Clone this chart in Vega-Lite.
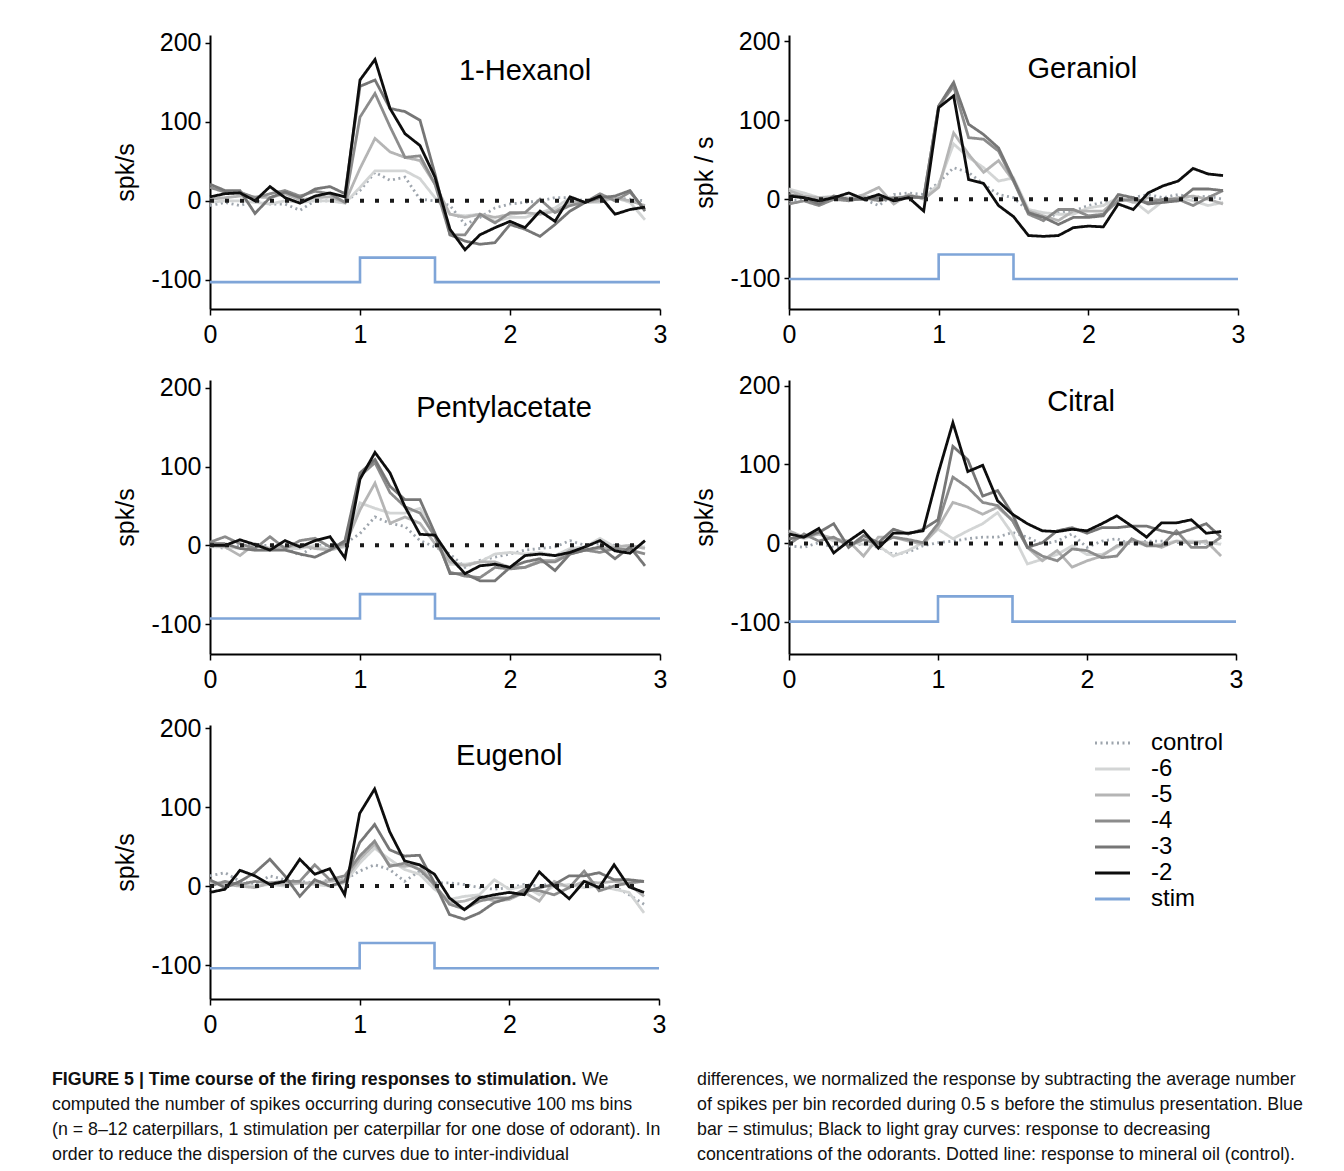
{
  "$schema": "https://vega.github.io/schema/vega-lite/v6.json",
  "background": "white",
  "padding": {"left": 52, "top": 29, "right": 5, "bottom": 5},
  "bounds": "flush",
  "columns": 2,
  "spacing": {"row": 71, "column": 129},
  "config": {
    "view": {"stroke": null},
    "font": "Liberation Sans",
    "axis": {"domainColor": "#000", "domainWidth": 2, "tickColor": "#000", "tickWidth": 1.5, "tickSize": 6, "labelFont": "Liberation Sans", "labelFontSize": 25, "labelColor": "#000", "labelFlush": false, "labelOverlap": false, "grid": false, "titleFont": "Liberation Sans", "titleFontSize": 25, "titleFontWeight": "normal", "titleColor": "#000"},
    "axisX": {"labelPadding": 7},
    "axisY": {"labelPadding": 4, "titlePadding": 12, "tickSize": 5, "labelExpr": "replace(datum.label, '−', '-')"}
  },
  "datasets": {
    "resp": [
      {"o":"hex","t":0,"c":-6,"d6":-2,"d5":2,"d4":17,"d3":21,"d2":5},
      {"o":"hex","t":0.1,"c":-2,"d6":0,"d5":4,"d4":11,"d3":13,"d2":9},
      {"o":"hex","t":0.2,"c":-6,"d6":0,"d5":6,"d4":11,"d3":13,"d2":10},
      {"o":"hex","t":0.3,"c":0,"d6":-2,"d5":5,"d4":4,"d3":-16,"d2":0},
      {"o":"hex","t":0.4,"c":-4,"d6":-4,"d5":4,"d4":9,"d3":4,"d2":18},
      {"o":"hex","t":0.5,"c":-4,"d6":0,"d5":9,"d4":13,"d3":11,"d2":4},
      {"o":"hex","t":0.6,"c":-12,"d6":-2,"d5":1,"d4":6,"d3":4,"d2":-3},
      {"o":"hex","t":0.7,"c":0,"d6":0,"d5":4,"d4":12,"d3":15,"d2":6},
      {"o":"hex","t":0.8,"c":0,"d6":0,"d5":5,"d4":9,"d3":18,"d2":10},
      {"o":"hex","t":0.9,"c":-2,"d6":-3,"d5":-2,"d4":-2,"d3":9,"d2":5},
      {"o":"hex","t":1.0,"c":13,"d6":17,"d5":41,"d4":106,"d3":145,"d2":153},
      {"o":"hex","t":1.1,"c":36,"d6":38,"d5":79,"d4":136,"d3":153,"d2":179},
      {"o":"hex","t":1.2,"c":26,"d6":38,"d5":62,"d4":94,"d3":117,"d2":117},
      {"o":"hex","t":1.3,"c":30,"d6":38,"d5":55,"d4":55,"d3":113,"d2":85},
      {"o":"hex","t":1.4,"c":2,"d6":28,"d5":51,"d4":57,"d3":102,"d2":70},
      {"o":"hex","t":1.5,"c":0,"d6":4,"d5":21,"d4":21,"d3":34,"d2":30},
      {"o":"hex","t":1.6,"c":-6,"d6":-17,"d5":-17,"d4":-43,"d3":-43,"d2":-36},
      {"o":"hex","t":1.7,"c":-30,"d6":-19,"d5":-21,"d4":-43,"d3":-51,"d2":-62},
      {"o":"hex","t":1.8,"c":-21,"d6":-17,"d5":-17,"d4":-17,"d3":-55,"d2":-43},
      {"o":"hex","t":1.9,"c":-9,"d6":-26,"d5":-21,"d4":-28,"d3":-53,"d2":-34},
      {"o":"hex","t":2.0,"c":-4,"d6":-21,"d5":-17,"d4":-15,"d3":-30,"d2":-26},
      {"o":"hex","t":2.1,"c":-2,"d6":-21,"d5":-15,"d4":-15,"d3":-36,"d2":-34},
      {"o":"hex","t":2.2,"c":0,"d6":-15,"d5":-17,"d4":2,"d3":-45,"d2":-13},
      {"o":"hex","t":2.3,"c":4,"d6":-9,"d5":-13,"d4":-15,"d3":-30,"d2":-26},
      {"o":"hex","t":2.4,"c":4,"d6":4,"d5":-2,"d4":-6,"d3":-13,"d2":5},
      {"o":"hex","t":2.5,"c":0,"d6":-2,"d5":-2,"d4":-2,"d3":-2,"d2":-2},
      {"o":"hex","t":2.6,"c":2,"d6":-2,"d5":0,"d4":9,"d3":4,"d2":6},
      {"o":"hex","t":2.7,"c":4,"d6":4,"d5":4,"d4":0,"d3":6,"d2":-17},
      {"o":"hex","t":2.8,"c":2,"d6":-2,"d5":0,"d4":11,"d3":13,"d2":-11},
      {"o":"hex","t":2.9,"c":0,"d6":-24,"d5":-6,"d4":-11,"d3":-13,"d2":-8},

      {"o":"ger","t":0,"c":-2,"d6":13,"d5":11,"d4":-6,"d3":6,"d2":4},
      {"o":"ger","t":0.1,"c":0,"d6":8,"d5":4,"d4":-2,"d3":2,"d2":2},
      {"o":"ger","t":0.2,"c":-2,"d6":2,"d5":2,"d4":-8,"d3":-6,"d2":-2},
      {"o":"ger","t":0.3,"c":0,"d6":4,"d5":2,"d4":0,"d3":4,"d2":2},
      {"o":"ger","t":0.4,"c":2,"d6":2,"d5":0,"d4":-2,"d3":0,"d2":8},
      {"o":"ger","t":0.5,"c":0,"d6":4,"d5":6,"d4":2,"d3":0,"d2":0},
      {"o":"ger","t":0.6,"c":-8,"d6":2,"d5":15,"d4":-2,"d3":2,"d2":6},
      {"o":"ger","t":0.7,"c":6,"d6":2,"d5":-6,"d4":2,"d3":0,"d2":-2},
      {"o":"ger","t":0.8,"c":8,"d6":4,"d5":6,"d4":2,"d3":4,"d2":2},
      {"o":"ger","t":0.9,"c":6,"d6":2,"d5":0,"d4":2,"d3":2,"d2":-15},
      {"o":"ger","t":1.0,"c":21,"d6":19,"d5":15,"d4":118,"d3":118,"d2":116},
      {"o":"ger","t":1.1,"c":40,"d6":70,"d5":84,"d4":143,"d3":148,"d2":131},
      {"o":"ger","t":1.2,"c":34,"d6":53,"d5":57,"d4":78,"d3":95,"d2":25},
      {"o":"ger","t":1.3,"c":19,"d6":40,"d5":34,"d4":76,"d3":82,"d2":20},
      {"o":"ger","t":1.4,"c":6,"d6":23,"d5":49,"d4":61,"d3":65,"d2":-8},
      {"o":"ger","t":1.5,"c":2,"d6":27,"d5":23,"d4":23,"d3":25,"d2":-22},
      {"o":"ger","t":1.6,"c":-15,"d6":-13,"d5":-15,"d4":-19,"d3":-17,"d2":-46},
      {"o":"ger","t":1.7,"c":-27,"d6":-17,"d5":-21,"d4":-27,"d3":-23,"d2":-47},
      {"o":"ger","t":1.8,"c":-17,"d6":-19,"d5":-27,"d4":-13,"d3":-32,"d2":-46},
      {"o":"ger","t":1.9,"c":-15,"d6":-19,"d5":-15,"d4":-13,"d3":-23,"d2":-36},
      {"o":"ger","t":2.0,"c":-8,"d6":-11,"d5":-15,"d4":-21,"d3":-23,"d2":-34},
      {"o":"ger","t":2.1,"c":-4,"d6":-8,"d5":-15,"d4":-19,"d3":-21,"d2":-35},
      {"o":"ger","t":2.2,"c":-2,"d6":2,"d5":2,"d4":-2,"d3":6,"d2":-6},
      {"o":"ger","t":2.3,"c":2,"d6":-2,"d5":-4,"d4":0,"d3":2,"d2":-13},
      {"o":"ger","t":2.4,"c":6,"d6":-17,"d5":2,"d4":-4,"d3":-6,"d2":8},
      {"o":"ger","t":2.5,"c":2,"d6":-2,"d5":-2,"d4":0,"d3":-4,"d2":17},
      {"o":"ger","t":2.6,"c":6,"d6":2,"d5":2,"d4":0,"d3":-2,"d2":23},
      {"o":"ger","t":2.7,"c":2,"d6":-2,"d5":4,"d4":-8,"d3":13,"d2":39},
      {"o":"ger","t":2.8,"c":4,"d6":-8,"d5":0,"d4":2,"d3":13,"d2":32},
      {"o":"ger","t":2.9,"c":0,"d6":-4,"d5":-6,"d4":11,"d3":11,"d2":30},

      {"o":"pen","t":0,"c":0,"d6":-2,"d5":0,"d4":4,"d3":2,"d2":0},
      {"o":"pen","t":0.1,"c":-4,"d6":-2,"d5":-2,"d4":11,"d3":2,"d2":0},
      {"o":"pen","t":0.2,"c":0,"d6":-4,"d5":-13,"d4":2,"d3":-4,"d2":7},
      {"o":"pen","t":0.3,"c":0,"d6":-6,"d5":2,"d4":-4,"d3":-6,"d2":1},
      {"o":"pen","t":0.4,"c":0,"d6":-6,"d5":-4,"d4":11,"d3":-6,"d2":-6},
      {"o":"pen","t":0.5,"c":-2,"d6":-4,"d5":-2,"d4":-4,"d3":-6,"d2":6},
      {"o":"pen","t":0.6,"c":-13,"d6":-4,"d5":0,"d4":6,"d3":-11,"d2":-2},
      {"o":"pen","t":0.7,"c":0,"d6":0,"d5":-4,"d4":9,"d3":-15,"d2":6},
      {"o":"pen","t":0.8,"c":0,"d6":-6,"d5":-6,"d4":-2,"d3":-6,"d2":11},
      {"o":"pen","t":0.9,"c":2,"d6":-2,"d5":0,"d4":2,"d3":6,"d2":-16},
      {"o":"pen","t":1.0,"c":15,"d6":54,"d5":45,"d4":88,"d3":92,"d2":84},
      {"o":"pen","t":1.1,"c":36,"d6":47,"d5":79,"d4":105,"d3":109,"d2":118},
      {"o":"pen","t":1.2,"c":28,"d6":41,"d5":28,"d4":67,"d3":75,"d2":92},
      {"o":"pen","t":1.3,"c":24,"d6":41,"d5":36,"d4":49,"d3":58,"d2":49},
      {"o":"pen","t":1.4,"c":6,"d6":47,"d5":28,"d4":41,"d3":58,"d2":14},
      {"o":"pen","t":1.5,"c":-2,"d6":15,"d5":2,"d4":11,"d3":15,"d2":13},
      {"o":"pen","t":1.6,"c":-11,"d6":-24,"d5":-21,"d4":-34,"d3":-36,"d2":-15},
      {"o":"pen","t":1.7,"c":-28,"d6":-24,"d5":-26,"d4":-39,"d3":-36,"d2":-36},
      {"o":"pen","t":1.8,"c":-19,"d6":-21,"d5":-21,"d4":-41,"d3":-45,"d2":-26},
      {"o":"pen","t":1.9,"c":-15,"d6":-11,"d5":-21,"d4":-28,"d3":-45,"d2":-24},
      {"o":"pen","t":2.0,"c":-11,"d6":-9,"d5":-28,"d4":-30,"d3":-28,"d2":-28},
      {"o":"pen","t":2.1,"c":-6,"d6":-11,"d5":-28,"d4":-28,"d3":-21,"d2":-13},
      {"o":"pen","t":2.2,"c":-4,"d6":-9,"d5":-19,"d4":-21,"d3":-17,"d2":-11},
      {"o":"pen","t":2.3,"c":-2,"d6":-13,"d5":-19,"d4":-21,"d3":-32,"d2":-13},
      {"o":"pen","t":2.4,"c":6,"d6":-4,"d5":-6,"d4":-11,"d3":-11,"d2":-9},
      {"o":"pen","t":2.5,"c":0,"d6":-2,"d5":-6,"d4":-6,"d3":-6,"d2":-2},
      {"o":"pen","t":2.6,"c":2,"d6":9,"d5":-4,"d4":-9,"d3":-2,"d2":6},
      {"o":"pen","t":2.7,"c":0,"d6":-2,"d5":-2,"d4":-4,"d3":-17,"d2":-7},
      {"o":"pen","t":2.8,"c":-2,"d6":-2,"d5":0,"d4":-6,"d3":-2,"d2":-10},
      {"o":"pen","t":2.9,"c":-2,"d6":-2,"d5":-4,"d4":-11,"d3":-26,"d2":6},

      {"o":"cit","t":0,"c":-3,"d6":14,"d5":16,"d4":-1,"d3":6,"d2":12},
      {"o":"cit","t":0.1,"c":-5,"d6":6,"d5":8,"d4":12,"d3":8,"d2":8},
      {"o":"cit","t":0.2,"c":1,"d6":12,"d5":12,"d4":3,"d3":14,"d2":19},
      {"o":"cit","t":0.3,"c":-5,"d6":3,"d5":6,"d4":8,"d3":25,"d2":-12},
      {"o":"cit","t":0.4,"c":-1,"d6":1,"d5":3,"d4":-3,"d3":-5,"d2":3},
      {"o":"cit","t":0.5,"c":-1,"d6":-1,"d5":-16,"d4":5,"d3":10,"d2":16},
      {"o":"cit","t":0.6,"c":-5,"d6":-3,"d5":8,"d4":-1,"d3":1,"d2":-6},
      {"o":"cit","t":0.7,"c":-14,"d6":-16,"d5":8,"d4":8,"d3":18,"d2":13},
      {"o":"cit","t":0.8,"c":-11,"d6":-9,"d5":3,"d4":5,"d3":12,"d2":13},
      {"o":"cit","t":0.9,"c":-3,"d6":1,"d5":-1,"d4":1,"d3":18,"d2":16},
      {"o":"cit","t":1.0,"c":1,"d6":18,"d5":20,"d4":25,"d3":30,"d2":88},
      {"o":"cit","t":1.1,"c":3,"d6":6,"d5":52,"d4":84,"d3":123,"d2":153},
      {"o":"cit","t":1.2,"c":6,"d6":16,"d5":46,"d4":71,"d3":106,"d2":91},
      {"o":"cit","t":1.3,"c":8,"d6":25,"d5":37,"d4":52,"d3":60,"d2":99},
      {"o":"cit","t":1.4,"c":8,"d6":39,"d5":46,"d4":48,"d3":67,"d2":54},
      {"o":"cit","t":1.5,"c":14,"d6":12,"d5":29,"d4":29,"d3":37,"d2":37},
      {"o":"cit","t":1.6,"c":8,"d6":-26,"d5":-5,"d4":-5,"d3":-5,"d2":25},
      {"o":"cit","t":1.7,"c":-1,"d6":-20,"d5":-22,"d4":-16,"d3":1,"d2":16},
      {"o":"cit","t":1.8,"c":3,"d6":-14,"d5":-9,"d4":-22,"d3":16,"d2":15},
      {"o":"cit","t":1.9,"c":12,"d6":-3,"d5":-30,"d4":-7,"d3":20,"d2":18},
      {"o":"cit","t":2.0,"c":-5,"d6":-14,"d5":-22,"d4":-9,"d3":13,"d2":16},
      {"o":"cit","t":2.1,"c":3,"d6":-14,"d5":-16,"d4":-18,"d3":20,"d2":25},
      {"o":"cit","t":2.2,"c":6,"d6":-5,"d5":-3,"d4":-16,"d3":20,"d2":35},
      {"o":"cit","t":2.3,"c":-1,"d6":3,"d5":3,"d4":6,"d3":22,"d2":22},
      {"o":"cit","t":2.4,"c":3,"d6":-3,"d5":1,"d4":-3,"d3":22,"d2":8},
      {"o":"cit","t":2.5,"c":3,"d6":-1,"d5":-5,"d4":-3,"d3":16,"d2":26},
      {"o":"cit","t":2.6,"c":1,"d6":3,"d5":3,"d4":16,"d3":12,"d2":26},
      {"o":"cit","t":2.7,"c":1,"d6":3,"d5":1,"d4":-5,"d3":18,"d2":30},
      {"o":"cit","t":2.8,"c":0,"d6":1,"d5":3,"d4":-5,"d3":25,"d2":13},
      {"o":"cit","t":2.9,"c":1,"d6":-1,"d5":-16,"d4":8,"d3":8,"d2":15},

      {"o":"eug","t":0,"c":13,"d6":4,"d5":6,"d4":0,"d3":8,"d2":-8},
      {"o":"eug","t":0.1,"c":17,"d6":4,"d5":2,"d4":6,"d3":-2,"d2":-4},
      {"o":"eug","t":0.2,"c":6,"d6":2,"d5":0,"d4":2,"d3":6,"d2":20},
      {"o":"eug","t":0.3,"c":2,"d6":0,"d5":-2,"d4":6,"d3":17,"d2":13},
      {"o":"eug","t":0.4,"c":13,"d6":2,"d5":4,"d4":4,"d3":34,"d2":2},
      {"o":"eug","t":0.5,"c":8,"d6":0,"d5":2,"d4":6,"d3":13,"d2":6},
      {"o":"eug","t":0.6,"c":6,"d6":4,"d5":4,"d4":6,"d3":-13,"d2":34},
      {"o":"eug","t":0.7,"c":4,"d6":2,"d5":4,"d4":27,"d3":8,"d2":15},
      {"o":"eug","t":0.8,"c":8,"d6":0,"d5":6,"d4":8,"d3":0,"d2":22},
      {"o":"eug","t":0.9,"c":8,"d6":4,"d5":8,"d4":13,"d3":6,"d2":-11},
      {"o":"eug","t":1.0,"c":19,"d6":29,"d5":34,"d4":38,"d3":55,"d2":92},
      {"o":"eug","t":1.1,"c":27,"d6":48,"d5":53,"d4":57,"d3":78,"d2":123},
      {"o":"eug","t":1.2,"c":21,"d6":34,"d5":27,"d4":25,"d3":46,"d2":69},
      {"o":"eug","t":1.3,"c":6,"d6":21,"d5":25,"d4":29,"d3":38,"d2":32},
      {"o":"eug","t":1.4,"c":19,"d6":15,"d5":27,"d4":21,"d3":39,"d2":27},
      {"o":"eug","t":1.5,"c":4,"d6":-4,"d5":0,"d4":2,"d3":4,"d2":15},
      {"o":"eug","t":1.6,"c":4,"d6":-17,"d5":-21,"d4":-23,"d3":-36,"d2":-15},
      {"o":"eug","t":1.7,"c":2,"d6":-13,"d5":-19,"d4":-29,"d3":-42,"d2":-30},
      {"o":"eug","t":1.8,"c":-2,"d6":-11,"d5":-13,"d4":-19,"d3":-34,"d2":-15},
      {"o":"eug","t":1.9,"c":-4,"d6":8,"d5":-19,"d4":-15,"d3":-21,"d2":-11},
      {"o":"eug","t":2.0,"c":-2,"d6":-4,"d5":-17,"d4":-15,"d3":-15,"d2":-8},
      {"o":"eug","t":2.1,"c":2,"d6":0,"d5":-8,"d4":-4,"d3":-8,"d2":-11},
      {"o":"eug","t":2.2,"c":0,"d6":-11,"d5":-19,"d4":-6,"d3":-2,"d2":18},
      {"o":"eug","t":2.3,"c":4,"d6":0,"d5":6,"d4":-11,"d3":2,"d2":0},
      {"o":"eug","t":2.4,"c":0,"d6":2,"d5":-2,"d4":-2,"d3":13,"d2":-16},
      {"o":"eug","t":2.5,"c":4,"d6":-2,"d5":6,"d4":19,"d3":13,"d2":6},
      {"o":"eug","t":2.6,"c":-2,"d6":0,"d5":4,"d4":-6,"d3":17,"d2":-2},
      {"o":"eug","t":2.7,"c":0,"d6":-4,"d5":6,"d4":0,"d3":8,"d2":27},
      {"o":"eug","t":2.8,"c":-11,"d6":-8,"d5":2,"d4":4,"d3":8,"d2":-1},
      {"o":"eug","t":2.9,"c":-23,"d6":-34,"d5":-13,"d4":6,"d3":6,"d2":-8}
    ],
    "stim": [
      {"o":"hex","t":0,"v":-103},{"o":"hex","t":1,"v":-72},{"o":"hex","t":1.5,"v":-103},{"o":"hex","t":3,"v":-103},
      {"o":"ger","t":0,"v":-101},{"o":"ger","t":1,"v":-70},{"o":"ger","t":1.5,"v":-101},{"o":"ger","t":3,"v":-101},
      {"o":"pen","t":0,"v":-93},{"o":"pen","t":1,"v":-62},{"o":"pen","t":1.5,"v":-93},{"o":"pen","t":3,"v":-93},
      {"o":"cit","t":0,"v":-99},{"o":"cit","t":1,"v":-67},{"o":"cit","t":1.5,"v":-99},{"o":"cit","t":3,"v":-99},
      {"o":"eug","t":0,"v":-104},{"o":"eug","t":1,"v":-72},{"o":"eug","t":1.5,"v":-104},{"o":"eug","t":3,"v":-104}
    ],
    "legend": [
      {"s":"c","i":0,"label":"control"},
      {"s":"d6","i":1,"label":"-6"},
      {"s":"d5","i":2,"label":"-5"},
      {"s":"d4","i":3,"label":"-4"},
      {"s":"d3","i":4,"label":"-3"},
      {"s":"d2","i":5,"label":"-2"},
      {"s":"stim","i":6,"label":"stim"}
    ],
    "cap": [
      {"col":0,"line":1,"text":"computed the number of spikes occurring during consecutive 100 ms bins"},
      {"col":0,"line":2,"text":"(n = 8–12 caterpillars, 1 stimulation per caterpillar for one dose of odorant). In"},
      {"col":0,"line":3,"text":"order to reduce the dispersion of the curves due to inter-individual"},
      {"col":1,"line":0,"text":"differences, we normalized the response by subtracting the average number"},
      {"col":1,"line":1,"text":"of spikes per bin recorded during 0.5 s before the stimulus presentation. Blue"},
      {"col":1,"line":2,"text":"bar = stimulus; Black to light gray curves: response to decreasing"},
      {"col":1,"line":3,"text":"concentrations of the odorants. Dotted line: response to mineral oil (control)."}
    ]
  },
  "concat": [
    {
      "width": 450, "height": 274,
      "layer": [
        {"data": {"name": "stim"}, "transform": [{"filter": "datum.o === 'hex'"}],
         "mark": {"type": "line", "interpolate": "step-after", "color": "#7fa5d8", "strokeWidth": 2.6},
         "encoding": {
           "x": {"field": "t", "type": "quantitative", "scale": {"domain": [0, 3], "nice": false, "zero": false}, "axis": {"values": [0,0.5,1,1.5,2,2.5,3], "format": "d", "labelExpr": "datum.value % 1 === 0 ? datum.label : ''", "title": null}},
           "y": {"field": "v", "type": "quantitative", "scale": {"domain": [-137, 210], "nice": false, "zero": false}, "axis": {"values": [-100,0,100,200], "format": "d", "title": "spk/s"}}}},
        {"data": {"name": "resp"}, "transform": [{"filter": "datum.o === 'hex'"}, {"fold": ["c","d6","d5","d4","d3","d2"], "as": ["s","v"]}],
         "mark": {"type": "line", "strokeWidth": 2.8},
         "encoding": {
           "x": {"field": "t", "type": "quantitative"},
           "y": {"field": "v", "type": "quantitative"},
           "color": {"field": "s", "type": "nominal", "scale": {"domain": ["c","d6","d5","d4","d3","d2","stim"], "range": ["#9ea5ad","#d3d5d5","#b5b5b5","#8c8c8c","#767676","#0d0d0d","#7fa5d8"]}, "legend": null},
           "strokeDash": {"field": "s", "type": "nominal", "scale": {"domain": ["c","d6","d5","d4","d3","d2","stim"], "range": [[2,3.5],[1,0],[1,0],[1,0],[1,0],[1,0],[1,0]]}, "legend": null}}},
        {"data": {"values": [{}]}, "mark": {"type": "rule", "color": "#1a1a1a", "strokeWidth": 4, "strokeDash": [4, 11]},
         "encoding": {"x": {"datum": 0}, "x2": {"datum": 2.9}, "y": {"datum": 0}}},
        {"data": {"values": [{"name": "1-Hexanol"}]}, "mark": {"type": "text", "fontSize": 29, "font": "Liberation Sans", "color": "#000"},
         "encoding": {"x": {"datum": 2.1}, "y": {"datum": 165}, "text": {"field": "name"}}}
      ]
    },
    {
      "width": 449, "height": 274,
      "layer": [
        {"data": {"name": "stim"}, "transform": [{"filter": "datum.o === 'ger'"}],
         "mark": {"type": "line", "interpolate": "step-after", "color": "#7fa5d8", "strokeWidth": 2.6},
         "encoding": {
           "x": {"field": "t", "type": "quantitative", "scale": {"domain": [0, 3], "nice": false, "zero": false}, "axis": {"values": [0,0.5,1,1.5,2,2.5,3], "format": "d", "labelExpr": "datum.value % 1 === 0 ? datum.label : ''", "title": null}},
           "y": {"field": "v", "type": "quantitative", "scale": {"domain": [-139, 208], "nice": false, "zero": false}, "axis": {"values": [-100,0,100,200], "format": "d", "title": "spk / s"}}}},
        {"data": {"name": "resp"}, "transform": [{"filter": "datum.o === 'ger'"}, {"fold": ["c","d6","d5","d4","d3","d2"], "as": ["s","v"]}],
         "mark": {"type": "line", "strokeWidth": 2.8},
         "encoding": {
           "x": {"field": "t", "type": "quantitative"},
           "y": {"field": "v", "type": "quantitative"},
           "color": {"field": "s", "type": "nominal", "scale": {"domain": ["c","d6","d5","d4","d3","d2","stim"], "range": ["#9ea5ad","#d3d5d5","#b5b5b5","#8c8c8c","#767676","#0d0d0d","#7fa5d8"]}, "legend": null},
           "strokeDash": {"field": "s", "type": "nominal", "scale": {"domain": ["c","d6","d5","d4","d3","d2","stim"], "range": [[2,3.5],[1,0],[1,0],[1,0],[1,0],[1,0],[1,0]]}, "legend": null}}},
        {"data": {"values": [{}]}, "mark": {"type": "rule", "color": "#1a1a1a", "strokeWidth": 4, "strokeDash": [4, 11]},
         "encoding": {"x": {"datum": 0}, "x2": {"datum": 2.9}, "y": {"datum": 0}}},
        {"data": {"values": [{"name": "Geraniol"}]}, "mark": {"type": "text", "fontSize": 29, "font": "Liberation Sans", "color": "#000"},
         "encoding": {"x": {"datum": 1.96}, "y": {"datum": 165}, "text": {"field": "name"}}}
      ]
    },
    {
      "width": 450, "height": 274,
      "layer": [
        {"data": {"name": "stim"}, "transform": [{"filter": "datum.o === 'pen'"}],
         "mark": {"type": "line", "interpolate": "step-after", "color": "#7fa5d8", "strokeWidth": 2.6},
         "encoding": {
           "x": {"field": "t", "type": "quantitative", "scale": {"domain": [0, 3], "nice": false, "zero": false}, "axis": {"values": [0,0.5,1,1.5,2,2.5,3], "format": "d", "labelExpr": "datum.value % 1 === 0 ? datum.label : ''", "title": null}},
           "y": {"field": "v", "type": "quantitative", "scale": {"domain": [-138, 210], "nice": false, "zero": false}, "axis": {"values": [-100,0,100,200], "format": "d", "title": "spk/s"}}}},
        {"data": {"name": "resp"}, "transform": [{"filter": "datum.o === 'pen'"}, {"fold": ["c","d6","d5","d4","d3","d2"], "as": ["s","v"]}],
         "mark": {"type": "line", "strokeWidth": 2.8},
         "encoding": {
           "x": {"field": "t", "type": "quantitative"},
           "y": {"field": "v", "type": "quantitative"},
           "color": {"field": "s", "type": "nominal", "scale": {"domain": ["c","d6","d5","d4","d3","d2","stim"], "range": ["#9ea5ad","#d3d5d5","#b5b5b5","#8c8c8c","#767676","#0d0d0d","#7fa5d8"]}, "legend": null},
           "strokeDash": {"field": "s", "type": "nominal", "scale": {"domain": ["c","d6","d5","d4","d3","d2","stim"], "range": [[2,3.5],[1,0],[1,0],[1,0],[1,0],[1,0],[1,0]]}, "legend": null}}},
        {"data": {"values": [{}]}, "mark": {"type": "rule", "color": "#1a1a1a", "strokeWidth": 4, "strokeDash": [4, 11]},
         "encoding": {"x": {"datum": 0}, "x2": {"datum": 2.9}, "y": {"datum": 0}}},
        {"data": {"values": [{"name": "Pentylacetate"}]}, "mark": {"type": "text", "fontSize": 29, "font": "Liberation Sans", "color": "#000"},
         "encoding": {"x": {"datum": 1.96}, "y": {"datum": 175}, "text": {"field": "name"}}}
      ]
    },
    {
      "width": 447, "height": 274,
      "layer": [
        {"data": {"name": "stim"}, "transform": [{"filter": "datum.o === 'cit'"}],
         "mark": {"type": "line", "interpolate": "step-after", "color": "#7fa5d8", "strokeWidth": 2.6},
         "encoding": {
           "x": {"field": "t", "type": "quantitative", "scale": {"domain": [0, 3], "nice": false, "zero": false}, "axis": {"values": [0,0.5,1,1.5,2,2.5,3], "format": "d", "labelExpr": "datum.value % 1 === 0 ? datum.label : ''", "title": null}},
           "y": {"field": "v", "type": "quantitative", "scale": {"domain": [-140, 207], "nice": false, "zero": false}, "axis": {"values": [-100,0,100,200], "format": "d", "title": "spk/s"}}}},
        {"data": {"name": "resp"}, "transform": [{"filter": "datum.o === 'cit'"}, {"fold": ["c","d6","d5","d4","d3","d2"], "as": ["s","v"]}],
         "mark": {"type": "line", "strokeWidth": 2.8},
         "encoding": {
           "x": {"field": "t", "type": "quantitative"},
           "y": {"field": "v", "type": "quantitative"},
           "color": {"field": "s", "type": "nominal", "scale": {"domain": ["c","d6","d5","d4","d3","d2","stim"], "range": ["#9ea5ad","#d3d5d5","#b5b5b5","#8c8c8c","#767676","#0d0d0d","#7fa5d8"]}, "legend": null},
           "strokeDash": {"field": "s", "type": "nominal", "scale": {"domain": ["c","d6","d5","d4","d3","d2","stim"], "range": [[2,3.5],[1,0],[1,0],[1,0],[1,0],[1,0],[1,0]]}, "legend": null}}},
        {"data": {"values": [{}]}, "mark": {"type": "rule", "color": "#1a1a1a", "strokeWidth": 4, "strokeDash": [4, 11]},
         "encoding": {"x": {"datum": 0}, "x2": {"datum": 2.9}, "y": {"datum": 0}}},
        {"data": {"values": [{"name": "Citral"}]}, "mark": {"type": "text", "fontSize": 29, "font": "Liberation Sans", "color": "#000"},
         "encoding": {"x": {"datum": 1.96}, "y": {"datum": 179}, "text": {"field": "name"}}}
      ]
    },
    {
      "width": 449, "height": 274,
      "layer": [
        {"data": {"name": "stim"}, "transform": [{"filter": "datum.o === 'eug'"}],
         "mark": {"type": "line", "interpolate": "step-after", "color": "#7fa5d8", "strokeWidth": 2.6},
         "encoding": {
           "x": {"field": "t", "type": "quantitative", "scale": {"domain": [0, 3], "nice": false, "zero": false}, "axis": {"values": [0,0.5,1,1.5,2,2.5,3], "format": "d", "labelExpr": "datum.value % 1 === 0 ? datum.label : ''", "title": null}},
           "y": {"field": "v", "type": "quantitative", "scale": {"domain": [-143, 204], "nice": false, "zero": false}, "axis": {"values": [-100,0,100,200], "format": "d", "title": "spk/s"}}}},
        {"data": {"name": "resp"}, "transform": [{"filter": "datum.o === 'eug'"}, {"fold": ["c","d6","d5","d4","d3","d2"], "as": ["s","v"]}],
         "mark": {"type": "line", "strokeWidth": 2.8},
         "encoding": {
           "x": {"field": "t", "type": "quantitative"},
           "y": {"field": "v", "type": "quantitative"},
           "color": {"field": "s", "type": "nominal", "scale": {"domain": ["c","d6","d5","d4","d3","d2","stim"], "range": ["#9ea5ad","#d3d5d5","#b5b5b5","#8c8c8c","#767676","#0d0d0d","#7fa5d8"]}, "legend": null},
           "strokeDash": {"field": "s", "type": "nominal", "scale": {"domain": ["c","d6","d5","d4","d3","d2","stim"], "range": [[2,3.5],[1,0],[1,0],[1,0],[1,0],[1,0],[1,0]]}, "legend": null}}},
        {"data": {"values": [{}]}, "mark": {"type": "rule", "color": "#1a1a1a", "strokeWidth": 4, "strokeDash": [4, 11]},
         "encoding": {"x": {"datum": 0}, "x2": {"datum": 2.9}, "y": {"datum": 0}}},
        {"data": {"values": [{"name": "Eugenol"}]}, "mark": {"type": "text", "fontSize": 29, "font": "Liberation Sans", "color": "#000"},
         "encoding": {"x": {"datum": 2.0}, "y": {"datum": 165}, "text": {"field": "name"}}}
      ]
    },
    {
      "width": 449, "height": 274,
      "data": {"name": "legend"},
      "layer": [
        {"mark": {"type": "rule", "strokeWidth": 3},
         "encoding": {
           "x": {"datum": 0, "type": "quantitative", "scale": {"domain": [-306, 143], "nice": false, "zero": false}, "axis": null},
           "x2": {"datum": 35},
           "y": {"field": "i", "type": "quantitative", "scale": {"domain": [-0.6923, 9.846], "reverse": true, "nice": false, "zero": false}, "axis": null},
           "color": {"field": "s", "type": "nominal", "scale": {"domain": ["c","d6","d5","d4","d3","d2","stim"], "range": ["#9ea5ad","#d3d5d5","#b5b5b5","#8c8c8c","#767676","#0d0d0d","#7fa5d8"]}, "legend": null},
           "strokeDash": {"field": "s", "type": "nominal", "scale": {"domain": ["c","d6","d5","d4","d3","d2","stim"], "range": [[2,3.5],[1,0],[1,0],[1,0],[1,0],[1,0],[1,0]]}, "legend": null}}},
        {"mark": {"type": "text", "align": "left", "baseline": "middle", "fontSize": 24, "font": "Liberation Sans", "color": "#000"},
         "encoding": {
           "x": {"datum": 56, "type": "quantitative"},
           "y": {"field": "i", "type": "quantitative"},
           "text": {"field": "label"}}}
      ]
    },
    {
      "width": 450, "height": 90,
      "layer": [
        {"data": {"name": "cap"},
         "mark": {"type": "text", "align": "left", "baseline": "middle", "fontSize": 17.8, "font": "Liberation Sans", "color": "#111"},
         "encoding": {
           "x": {"field": "col", "type": "quantitative", "scale": {"domain": [0.24496, 0.94264], "nice": false, "zero": false}, "axis": null},
           "y": {"field": "line", "type": "quantitative", "scale": {"domain": [-0.4, 3.2], "reverse": true, "nice": false, "zero": false}, "axis": null},
           "text": {"field": "text"}}},
        {"data": {"values": [{"col": 0, "line": 0, "text": "FIGURE 5 | Time course of the firing responses to stimulation."}]},
         "mark": {"type": "text", "align": "left", "baseline": "middle", "fontSize": 17.8, "fontWeight": "bold", "font": "Liberation Sans", "color": "#111"},
         "encoding": {"x": {"field": "col", "type": "quantitative"}, "y": {"field": "line", "type": "quantitative"}, "text": {"field": "text"}}},
        {"data": {"values": [{"col": 0, "line": 0, "text": "We"}]},
         "mark": {"type": "text", "align": "left", "baseline": "middle", "fontSize": 17.8, "font": "Liberation Sans", "color": "#111", "dx": 530},
         "encoding": {"x": {"field": "col", "type": "quantitative"}, "y": {"field": "line", "type": "quantitative"}, "text": {"field": "text"}}}
      ]
    }
  ]
}
